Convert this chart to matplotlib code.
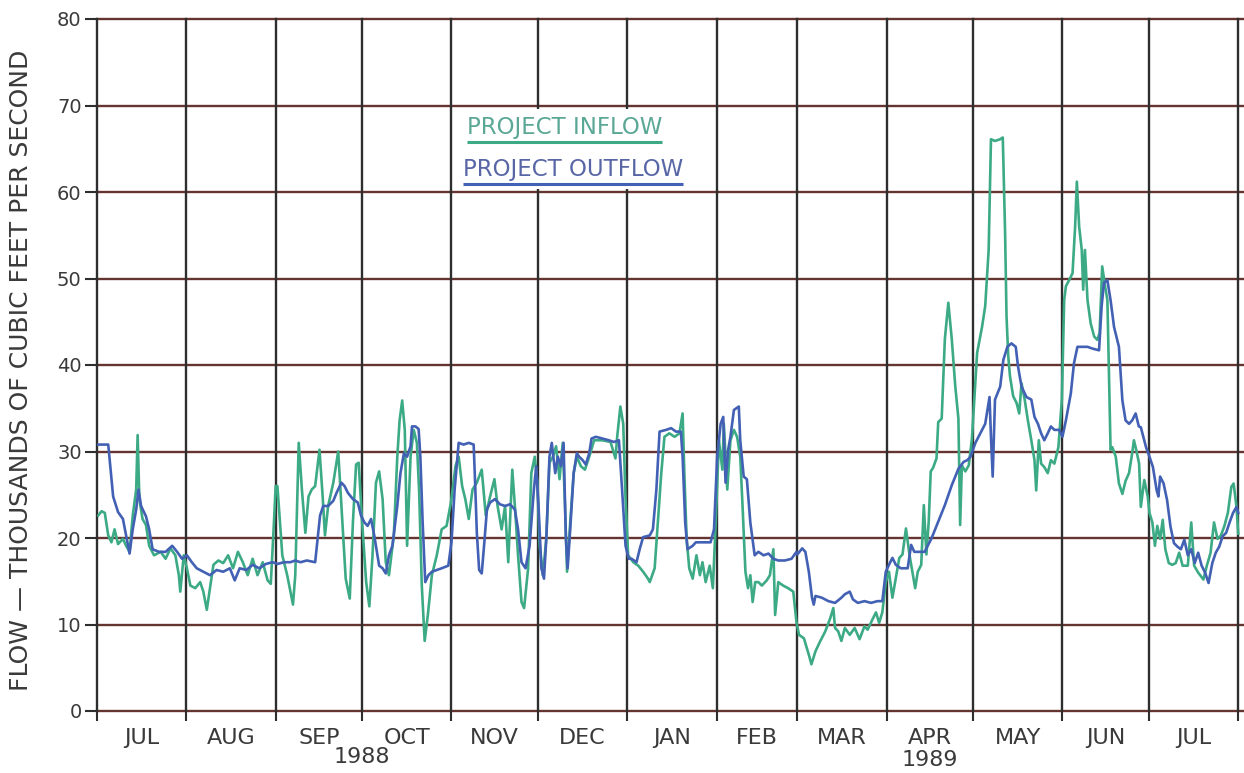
import matplotlib
matplotlib.use("Agg")
import matplotlib.pyplot as plt
from matplotlib.patches import Rectangle

# day 0 = 1 July 1988
month_starts = [0, 31, 62, 92, 123, 153, 184, 215, 243, 274, 304, 335, 365, 396]
month_names = ["JUL", "AUG", "SEP", "OCT", "NOV", "DEC", "JAN",
               "FEB", "MAR", "APR", "MAY", "JUN", "JUL"]
year_labels = ["1988", "1989"]
y_ticks = [0, 10, 20, 30, 40, 50, 60, 70, 80]

# project inflow, thousands of cfs
inflow_day = [0.4, 1.6, 2.7, 3.9, 5.0, 6.1, 7.3, 9.0, 10.1, 11.3, 12.4, 13.6, 14.1, 14.7, 15.8,
              17.0, 18.1, 19.8, 22.1, 23.8, 25.5, 27.2, 28.4, 28.9, 30.1, 31.2, 32.4, 34.1, 35.8,
              36.9, 38.1, 39.2, 40.4, 42.1, 43.8, 45.5, 47.2, 48.9, 50.6, 52.3, 54.0, 55.7, 57.5,
              59.2, 60.3, 61.4, 62.0, 62.6, 64.3, 66.0, 68.0, 68.8, 70.0, 71.1, 72.3, 73.4, 74.5,
              75.7, 77.2, 78.3, 79.1, 80.2, 82.0, 83.7, 84.8, 86.3, 87.7, 88.8, 89.9, 90.8, 92.0,
              93.4, 94.5, 95.6, 96.8, 97.9, 99.1, 100.2, 101.3, 103.0, 104.2, 105.0, 105.9, 106.8,
              107.6, 108.8, 109.9, 111.0, 111.8, 112.7, 113.7, 114.8, 116.2, 117.9, 119.6, 121.3,
              122.8, 124.4, 125.5, 126.7, 127.8, 129.0, 130.3, 131.8, 133.5, 134.9, 136.4, 137.9,
              139.0, 140.4, 141.6, 142.7, 144.1, 145.0, 146.1, 147.3, 148.2, 149.6, 150.7, 151.9,
              152.8, 153.6, 154.7, 155.9, 157.0, 158.2, 159.3, 160.5, 161.6, 162.4, 163.1, 164.2,
              165.4, 166.5, 167.9, 169.3, 170.8, 172.5, 175.3, 178.2, 179.9, 180.5, 181.6, 182.6,
              183.4, 184.3, 186.1, 187.8, 189.5, 191.2, 191.8, 193.5, 194.6, 195.8, 196.9, 198.6,
              200.4, 202.1, 203.2, 203.8, 204.6, 205.5, 206.7, 208.0, 209.2, 210.1, 211.2, 212.6,
              213.7, 214.7, 215.8, 217.0, 217.5, 218.7, 219.8, 221.0, 222.1, 223.2, 224.0, 225.0,
              225.9, 226.7, 227.5, 228.4, 229.5, 230.7, 232.4, 233.5, 234.7, 235.3, 236.4, 238.1,
              239.8, 241.6, 242.7, 243.6, 245.3, 247.0, 247.9, 249.3, 251.0, 252.7, 254.4, 255.5,
              256.1, 257.2, 258.3, 259.5, 261.2, 262.9, 264.6, 266.3, 267.4, 269.1, 270.3, 271.4,
              272.5, 273.7, 274.8, 276.0, 277.2, 278.4, 279.5, 280.7, 281.9, 283.1, 283.9, 284.8,
              286.0, 286.9, 287.8, 288.6, 289.3, 290.1, 291.3, 291.9, 293.1, 294.2, 295.4, 296.6,
              297.8, 298.9, 299.5, 300.1, 301.3, 302.5, 303.6, 305.4, 307.1, 308.2, 309.4, 310.2,
              311.6, 313.4, 314.3, 315.1, 315.6, 316.2, 316.8, 317.9, 319.1, 320.0, 320.8, 321.9,
              323.0, 324.2, 325.3, 325.9, 326.8, 327.6, 328.7, 329.9, 331.0, 332.2, 333.6, 334.8,
              335.6, 336.2, 337.3, 338.5, 339.4, 340.0, 340.8, 341.7, 342.2, 342.8, 343.7, 344.8,
              346.0, 347.1, 347.9, 348.8, 349.8, 350.6, 351.1, 351.7, 352.3, 353.5, 354.6, 355.8,
              356.9, 358.1, 359.2, 359.8, 360.6, 361.6, 362.2, 363.4, 364.6, 365.2, 366.2, 367.1,
              367.9, 368.9, 369.8, 370.7, 371.9, 373.1, 374.3, 375.5, 376.7, 378.5, 379.7, 380.7,
              382.1, 383.9, 385.1, 386.4, 387.6, 388.8, 390.0, 391.2, 392.4, 393.6, 394.4, 395.4,
              396.0]
inflow_cfs = [22.6, 23.1, 22.9, 20.3, 19.5, 21.0, 19.3, 19.9, 19.1, 18.4, 22.6, 25.6, 31.9, 24.5, 22.2,
              21.5, 19.1, 18.0, 18.4, 17.6, 18.8, 18.0, 15.7, 13.8, 18.0, 16.5, 14.5, 14.2, 14.9,
              13.8, 11.7, 14.2, 16.9, 17.4, 17.1, 18.0, 16.5, 18.4, 17.2, 15.7, 17.6, 15.7, 17.2,
              15.1, 14.7, 21.8, 26.0, 26.0, 18.0, 15.7, 12.3, 15.7, 31.0, 25.6, 20.6, 24.8, 25.6,
              26.0, 30.2, 24.8, 20.3, 23.7, 26.4, 30.0, 23.7, 15.3, 13.0, 21.8, 28.5, 28.7, 21.8,
              14.9, 12.1, 18.0, 26.4, 27.7, 24.5, 17.2, 15.7, 20.3, 29.4, 33.6, 35.9, 32.5,
              19.1, 29.4, 32.5, 31.0, 25.2, 14.5, 8.1, 11.1, 15.7, 18.0, 21.0, 21.4,
              24.1, 28.3, 29.4, 26.0, 24.5, 22.2, 25.6, 26.4, 27.9, 22.6, 24.8, 26.8,
              23.7, 21.0, 23.7, 17.2, 27.9, 23.7, 18.0, 12.6, 11.9, 16.5, 27.5, 29.4,
              26.4, 19.1, 15.7, 19.9, 28.7, 29.4, 30.6, 26.8, 31.0, 23.7, 16.1, 21.8,
              27.5, 29.4, 28.3, 27.9, 29.4, 31.3, 31.3, 31.1, 29.2, 31.7, 35.2, 33.2,
              24.5, 18.0, 17.2, 16.8, 16.1, 15.3, 14.9, 16.5, 21.8, 27.5, 31.7, 32.1,
              31.7, 32.1, 34.4, 27.5, 19.9, 16.5, 15.3, 18.0, 15.7, 17.2, 14.9, 16.8,
              14.2, 21.8, 31.3, 27.9, 33.2, 25.6, 31.3, 32.5, 31.7, 29.4, 23.7, 16.1,
              14.2, 15.7, 12.6, 14.9, 14.9, 14.5, 15.1, 15.7, 18.7, 11.1, 14.9, 14.5,
              14.2, 13.8, 10.3, 8.8, 8.4, 6.5, 5.4, 6.9, 8.1, 9.2, 10.7, 11.9,
              9.6, 9.2, 8.1, 9.6, 8.8, 9.6, 8.3, 9.8, 9.4, 10.6, 11.4, 10.2,
              11.4, 14.9, 16.1, 13.1, 15.4, 17.7, 18.1, 21.1, 18.1, 15.8, 14.2, 16.1,
              16.9, 23.8, 18.1, 21.9, 27.7, 28.1, 29.2, 33.4, 33.8, 43.0, 47.2, 43.0,
              37.6, 33.8, 21.5, 28.4, 27.7, 28.4, 31.5, 41.4, 44.4, 46.8, 53.3, 66.1,
              65.9, 66.1, 66.3, 55.3, 45.6, 41.0, 38.7, 36.4, 35.6, 34.4, 37.9, 36.0,
              33.6, 31.3, 29.0, 25.5, 31.3, 28.6, 28.2, 27.5, 29.0, 28.6, 30.5, 36.0,
              47.5, 49.1, 49.8, 50.6, 56.0, 61.2, 56.0, 53.3, 48.7, 53.3, 47.5, 44.8,
              43.3, 42.9, 43.7, 51.4, 49.1, 47.5, 39.8, 30.2, 30.5, 29.4, 26.3, 25.1,
              26.6, 27.5, 29.8, 31.3, 30.2, 28.6, 23.6, 26.7, 24.8, 22.9, 21.8, 19.1,
              21.4, 19.9, 22.1, 18.7, 17.1, 16.9, 17.1, 18.3, 16.8, 16.8, 21.8, 16.8,
              16.0, 15.2, 16.8, 18.3, 21.8, 19.9, 20.3, 21.4, 22.9, 25.9, 26.3, 23.6,
              20.5]

# project outflow, thousands of cfs
outflow_day = [0.4, 3.9, 5.6, 7.3, 9.0, 10.1, 11.3, 12.4, 13.6, 14.4, 15.3, 17.0, 18.1, 19.3, 21.5,
               23.8, 26.1, 27.8, 29.5, 31.2, 32.9, 34.6, 36.9, 39.2, 41.5, 43.8, 46.1, 47.8, 49.5,
               51.8, 54.0, 56.3, 58.6, 60.9, 62.6, 64.9, 67.1, 68.8, 70.6, 72.8, 75.7, 77.4, 78.5,
               80.2, 82.0, 83.1, 84.8, 85.9, 87.1, 88.8, 90.5, 91.6, 92.8, 93.9, 95.1, 96.2, 97.9,
               99.1, 100.2, 101.3, 102.5, 104.2, 105.3, 106.5, 107.6, 108.8, 109.3, 110.5, 111.6,
               112.2, 113.0, 113.9, 115.0, 116.2, 117.9, 119.6, 121.9, 123.0, 124.1, 125.5, 127.2,
               129.0, 130.7, 131.2, 131.8, 132.6, 133.5, 134.5, 135.3, 136.4, 138.1, 139.8, 141.6,
               143.3, 145.0, 146.1, 147.3, 148.7, 150.1, 151.6, 152.4, 153.2, 154.2, 155.1, 155.9,
               157.0, 157.8, 159.0, 159.9, 161.0, 161.9, 162.7, 163.3, 164.2, 165.4, 166.5, 167.3,
               168.5, 169.6, 170.8, 171.6, 173.1, 175.3, 177.6, 179.4, 181.1, 182.2, 183.4, 184.5,
               185.5, 187.2, 188.3, 189.5, 191.8, 192.9, 194.1, 195.2, 197.5, 199.2, 200.9, 202.6,
               203.2, 204.1, 204.9, 206.7, 207.8, 210.1, 212.9, 214.1, 215.2, 216.4, 217.3, 218.1,
               219.0, 219.8, 221.0, 222.7, 223.2, 224.4, 225.5, 226.7, 228.2, 229.5, 231.3, 233.0,
               234.7, 236.4, 238.7, 241.0, 242.7, 243.0, 244.7, 245.8, 247.0, 248.1, 248.7, 249.3,
               251.5, 253.8, 256.1, 258.3, 259.5, 261.2, 262.3, 264.0, 266.3, 268.6, 270.8, 272.5,
               273.7, 274.8, 276.0, 277.2, 278.9, 281.3, 282.5, 283.6, 285.4, 287.2, 288.4, 289.5,
               291.9, 294.2, 296.6, 298.9, 300.7, 302.0, 303.1, 304.8, 306.5, 308.2, 309.7, 310.2,
               310.8, 311.6, 313.4, 314.5, 315.9, 317.3, 318.8, 319.6, 320.8, 322.5, 324.2, 325.3,
               326.5, 327.6, 328.7, 329.9, 331.0, 332.2, 333.9, 335.0, 336.2, 337.9, 339.0, 340.2,
               341.9, 343.7, 345.4, 347.7, 348.6, 349.4, 350.6, 351.7, 352.9, 354.6, 355.8, 356.9,
               358.1, 359.2, 360.4, 361.5, 362.2, 364.0, 365.2, 366.4, 367.7, 368.3, 368.9, 370.1,
               371.3, 372.5, 373.7, 374.9, 376.1, 377.3, 378.5, 379.7, 380.9, 382.1, 383.3, 384.5,
               385.7, 387.0, 388.2, 389.4, 390.6, 391.8, 393.0, 394.2, 395.4, 396.0]
outflow_cfs = [30.8, 30.8, 24.8, 23.0, 22.2, 20.3, 18.2, 21.0, 23.3, 25.6, 23.7, 22.5, 21.0, 18.7, 18.4,
               18.4, 19.1, 18.4, 17.6, 18.0, 17.2, 16.5, 16.1, 15.7, 16.3, 16.1, 16.5, 15.1, 16.5,
               16.3, 16.9, 16.5, 17.0, 17.2, 17.0, 17.2, 17.2, 17.4, 17.2, 17.4, 17.2, 22.6, 23.7,
               23.7, 24.3, 25.2, 26.4, 26.0, 25.2, 24.5, 24.1, 22.6, 21.8, 21.4, 22.2, 20.3, 16.8,
               16.5, 15.9, 18.0, 19.1, 23.7, 27.5, 29.8, 29.4, 30.6, 32.9, 32.9, 32.6,
               29.4, 21.8, 14.9, 15.7, 16.1, 16.3, 16.5, 16.8, 19.5, 25.6, 31.0, 30.8,
               31.0, 30.8, 26.4, 20.6, 16.3, 15.9, 19.9, 23.3, 24.1, 24.5, 23.9, 23.7,
               23.9, 23.3, 21.0, 17.2, 16.5, 19.1, 25.6, 28.3, 23.7, 16.5, 15.3, 19.9,
               29.4, 31.0, 27.5, 29.4, 28.3, 31.0, 19.9, 16.5, 21.0, 27.5, 29.8, 29.4,
               29.0, 28.5, 29.8, 31.5, 31.7, 31.5, 31.3, 31.1, 31.3, 25.6, 19.1, 17.6,
               17.6, 17.2, 18.7, 20.1, 20.3, 21.0, 25.6, 32.3, 32.5, 32.7, 32.3, 32.3,
               29.4, 21.8, 18.7, 19.1, 19.5, 19.5, 19.5, 21.0, 29.4, 33.2, 34.0, 26.4,
               30.2, 31.7, 34.8, 35.2, 31.3, 27.1, 26.8, 21.8, 18.0, 18.4, 18.0, 18.2,
               17.6, 17.4, 17.4, 17.6, 18.4, 18.1, 18.8, 18.4, 16.1, 13.1, 12.3, 13.3,
               13.1, 12.7, 12.5, 13.1, 13.5, 13.8, 12.9, 12.5, 12.7, 12.5, 12.7, 12.7,
               16.1, 16.9, 17.7, 16.9, 16.5, 16.5, 19.2, 18.4, 18.4, 18.4, 19.2, 19.9,
               21.9, 23.8, 26.1, 28.0, 28.8, 29.0, 29.4, 31.0, 32.1, 33.2, 36.3, 31.7,
               27.1, 36.0, 37.5, 40.6, 42.1, 42.5, 42.1, 39.8, 37.5, 36.3, 36.0, 34.0,
               33.2, 32.1, 31.3, 32.1, 32.9, 32.5, 32.5, 31.7, 33.6, 36.7, 40.2, 42.1,
               42.1, 42.1, 41.9, 41.7, 46.8, 49.5, 49.8, 47.5, 44.4, 42.1, 35.9, 33.6,
               33.2, 33.6, 34.4, 32.9, 32.8, 30.5, 29.4, 28.2, 25.5, 24.8, 27.1, 26.3,
               24.4, 21.3, 19.4, 19.0, 18.7, 19.8, 18.0, 18.7, 17.1, 18.3, 16.8, 16.0,
               14.8, 17.1, 18.3, 19.0, 20.2, 20.6, 21.8, 22.9, 23.6, 22.9]

green = "#3daa86"
blue = "#4361b4"
text_col = "#3a3a3a"
hgrid = "#643530"
vgrid = "#2e2e2e"

fig = plt.figure(figsize=(12.44, 7.73), dpi=100)
ax = fig.add_axes([97 / 1244, 62 / 773, 1147 / 1244, 692 / 773])
ax.set_xlim(0, 398)
ax.set_ylim(0, 80)
for s in ax.spines.values():
    s.set_visible(False)

# grid: reddish horizontals, dark verticals at month boundaries
for v in y_ticks:
    ax.axhline(v, color=hgrid, lw=1.7, zorder=1, clip_on=False)
for d in month_starts:
    ax.axvline(d, color=vgrid, lw=1.7, zorder=1, clip_on=False)

ax.plot(inflow_day, inflow_cfs, color=green, lw=1.9, zorder=3)
ax.plot(outflow_day, outflow_cfs, color=blue, lw=1.9, zorder=4)

# ticks
ax.set_yticks(y_ticks)
ax.set_yticklabels([str(v) for v in y_ticks], fontsize=14, color=text_col)
ax.tick_params(axis="y", length=9, width=1.5, color=vgrid, pad=2)
ax.set_xticks(month_starts)
ax.set_xticklabels([""] * len(month_starts))
ax.tick_params(axis="x", which="major", length=7, width=1.5, color=vgrid)
mids = [(a + b) / 2 for a, b in zip(month_starts[:-1], month_starts[1:])]
ax.set_xticks(mids, minor=True)
ax.set_xticklabels(month_names, minor=True, fontsize=16, color=text_col)
ax.tick_params(axis="x", which="minor", length=0, pad=12)

trans = ax.get_xaxis_transform()
ax.text(month_starts[3], -0.067, year_labels[0], transform=trans, ha="center", va="center",
        fontsize=16, color=text_col)
ax.text(mids[9], -0.071, year_labels[1], transform=trans, ha="center", va="center",
        fontsize=16, color=text_col)

fig.text(0.017, 0.521, "FLOW \u2014 THOUSANDS OF CUBIC FEET PER SECOND", rotation=90,
         ha="center", va="center", fontsize=18, color=text_col)

# legend block (white box over the grid, underlined labels)
ax.add_patch(Rectangle((124, 60.3), 88, 9.3, facecolor="white", edgecolor="none", zorder=2))
t1 = ax.text(128.4, 67.4, "PROJECT INFLOW", color="#5aa795", fontsize=16.5, ha="left",
             va="center", zorder=5)
t2 = ax.text(127.0, 62.6, "PROJECT OUTFLOW", color="#5866a6", fontsize=16.5, ha="left",
             va="center", zorder=5)
fig.canvas.draw()
inv = ax.transData.inverted()
for t, c in [(t1, green), (t2, blue)]:
    bb = t.get_window_extent()
    (x0, y0), (x1, y1) = inv.transform([(bb.x0, bb.y0), (bb.x1, bb.y1)])
    ax.plot([x0, x1], [y0 - 0.3, y0 - 0.3], color=c, lw=2.2, zorder=5, solid_capstyle="butt")

fig.savefig("out.png", dpi=100)
